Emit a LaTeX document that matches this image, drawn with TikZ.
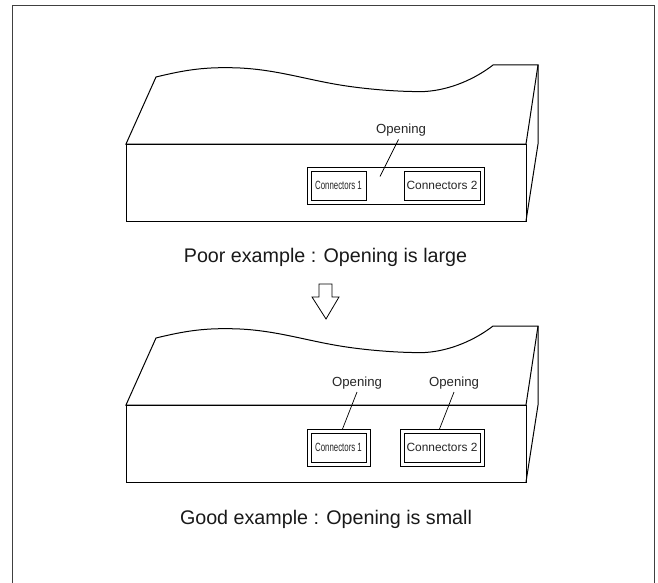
\documentclass[tikz,border=0pt]{standalone}
\usepackage{fontspec}
\setmainfont{Liberation Sans}
\tikzset{
  x=1pt,y=-1pt,
  body/.style={draw=black,line width=1pt,line join=miter},
  frameline/.style={draw=black!75,line width=1pt},
  thin box/.style={draw=black,line width=0.9pt,fill=white},
  leader/.style={draw=black,line width=0.7pt},
  label/.style={font=\fontsize{13.2}{15}\selectfont,text=black!85,inner sep=0pt},
  caption/.style={font=\fontsize{19.7}{22}\selectfont,text=black!90,inner sep=0pt},
  conn/.style={font=\fontsize{11.9}{14}\selectfont,text=black!85,inner sep=0pt},
}
\newcommand{\machine}[1]{%
  \begin{scope}[yshift=#1]
    \draw[body] (126,144) -- (156,77)
      .. controls (185,70) and (205,66.5) .. (240,68)
      .. controls (280,70) and (310,81) .. (350,86.5)
      .. controls (375,90) and (405,92) .. (425,91.5)
      .. controls (450,90) and (475,79) .. (493,65)
      -- (538,65) -- (526,144) -- cycle;
    \draw[body] (126,144) rectangle (526,221);
    \draw[body] (538,65) -- (538,144) -- (526,221);
  \end{scope}}
\begin{document}
\begin{tikzpicture}
\useasboundingbox (0,0) rectangle (658,583);
\draw[frameline] (12,590) -- (12,6) -- (654,6) -- (654,590);
% upper drawing
\machine{0pt}
\draw[thin box] (307,167) rectangle (484,204);
\node[thin box,minimum width=55pt,minimum height=29pt,inner sep=0pt,conn] (c1a) at (338.5,185.5) {\scalebox{0.66}[1]{Connectors 1}};
\node[thin box,minimum width=76pt,minimum height=29pt,inner sep=0pt,conn] (c2a) at (442,185.5) {Connectors 2};
\node[label] (opa) at (401,130) {Opening};
\coordinate (opaend) at (380,176.5);
\draw[leader] (398.5,139.5) -- (opaend);
\node[caption] (capa) at (325.5,257) {Poor example : Opening is large};
% arrow
\draw[black,line width=0.8pt,line join=miter] (319,284) -- (332,284) -- (332,297) -- (339,297) -- (326,319) -- (312,297) -- (319,297) -- cycle;
% lower drawing
\machine{-261pt}
\draw[thin box] (307,429) rectangle (370,466);
\draw[thin box] (400,429) rectangle (484,466);
\node[thin box,minimum width=55pt,minimum height=29pt,inner sep=0pt,conn] (c1b) at (338.5,447.5) {\scalebox{0.66}[1]{Connectors 1}};
\node[thin box,minimum width=76pt,minimum height=29pt,inner sep=0pt,conn] (c2b) at (442,447.5) {Connectors 2};
\node[label] (opb) at (357,383) {Opening};
\node[label] (opc) at (454,383) {Opening};
\coordinate (opbend) at (342.5,429);
\coordinate (opcend) at (439.5,429);
\draw[leader] (357,392) -- (opbend);
\draw[leader] (454,392) -- (opcend);
\node[caption] (capb) at (326,519) {Good example : Opening is small};
\end{tikzpicture}
\end{document}
